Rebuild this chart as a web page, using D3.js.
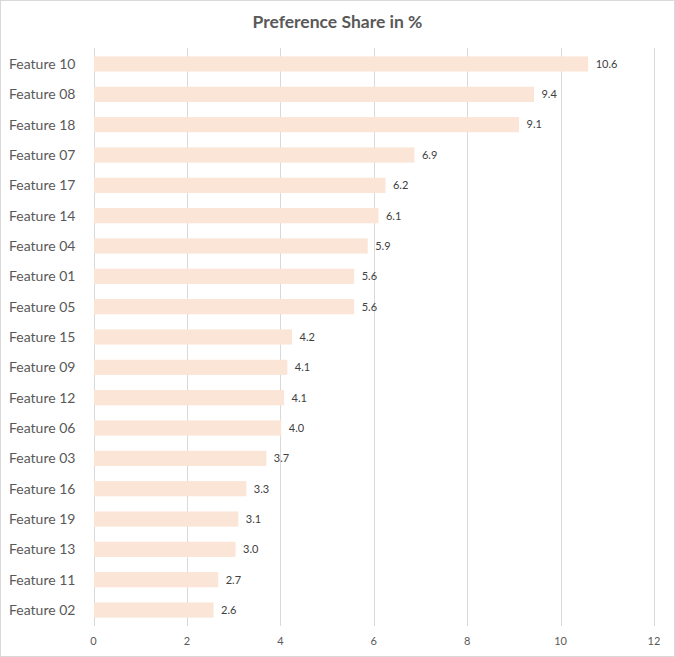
<!DOCTYPE html>
<html>
<head>
<meta charset="utf-8">
<script src="https://cdn.jsdelivr.net/npm/d3@7"></script>
<style>
  body { margin: 0; background: #fff; }
  svg { display: block; font-family: Lato, 'Open Sans', sans-serif; }
</style>
</head>
<body>
<svg width="675" height="657"></svg>
<script>
const categories = ['Feature 10', 'Feature 08', 'Feature 18', 'Feature 07', 'Feature 17', 'Feature 14',
  'Feature 04', 'Feature 01', 'Feature 05', 'Feature 15', 'Feature 09', 'Feature 12', 'Feature 06',
  'Feature 03', 'Feature 16', 'Feature 19', 'Feature 13', 'Feature 11', 'Feature 02']
const values = [10.58, 9.42, 9.10, 6.86, 6.24, 6.09, 5.86, 5.57, 5.57, 4.24, 4.14, 4.07, 4.01,
  3.69, 3.26, 3.09, 3.03, 2.66, 2.56]
const xTicks = [0, 2, 4, 6, 8, 10, 12]

const svg = d3.select('svg')
const width = 675, height = 657

svg.append('rect')
  .attr('x', 0.5).attr('y', 0.5)
  .attr('width', width - 1).attr('height', height - 1)
  .attr('fill', '#fff')
  .attr('stroke', '#d9d9d9')

const x = d3.scaleLinear().domain([0, 12]).range([93.5, 654])
const y = d3.scaleBand().domain(categories).range([48.8, 625.2]).paddingInner(0.5).paddingOuter(0.25)

// gridlines
svg.append('g')
  .selectAll('line')
  .data(xTicks)
  .enter().append('line')
  .attr('x1', d => Math.round(x(d)) + 0.5)
  .attr('x2', d => Math.round(x(d)) + 0.5)
  .attr('y1', 48)
  .attr('y2', 626)
  .attr('stroke', '#d9d9d9')
  .attr('stroke-width', 1)

// x tick labels
svg.append('g')
  .selectAll('text')
  .data(xTicks)
  .enter().append('text')
  .attr('x', d => x(d))
  .attr('y', 645)
  .attr('text-anchor', 'middle')
  .attr('font-size', 11)
  .attr('fill', '#595959')
  .text(d => d)

// bars
svg.append('g')
  .selectAll('rect')
  .data(values)
  .enter().append('rect')
  .attr('x', x(0) + 0.5)
  .attr('y', (d, i) => y(categories[i]))
  .attr('width', d => x(d) - x(0))
  .attr('height', y.bandwidth())
  .attr('fill', '#fbe5d6')

// value labels
svg.append('g')
  .selectAll('text')
  .data(values)
  .enter().append('text')
  .attr('x', d => x(d) + 8)
  .attr('y', (d, i) => y(categories[i]) + y.bandwidth() / 2)
  .attr('dy', '0.35em')
  .attr('font-size', 11)
  .attr('fill', '#404040')
  .text(d => d.toFixed(1))

// category labels
svg.append('g')
  .selectAll('text')
  .data(categories)
  .enter().append('text')
  .attr('x', 9)
  .attr('y', d => y(d) + y.bandwidth() / 2)
  .attr('dy', '0.35em')
  .attr('font-size', 14)
  .attr('fill', '#595959')
  .text(d => d)

// title
svg.append('text')
  .attr('x', width / 2)
  .attr('y', 28)
  .attr('text-anchor', 'middle')
  .attr('font-size', 17.5)
  .attr('font-weight', 'bold')
  .attr('fill', '#595959')
  .text('Preference Share in %')
</script>
</body>
</html>
